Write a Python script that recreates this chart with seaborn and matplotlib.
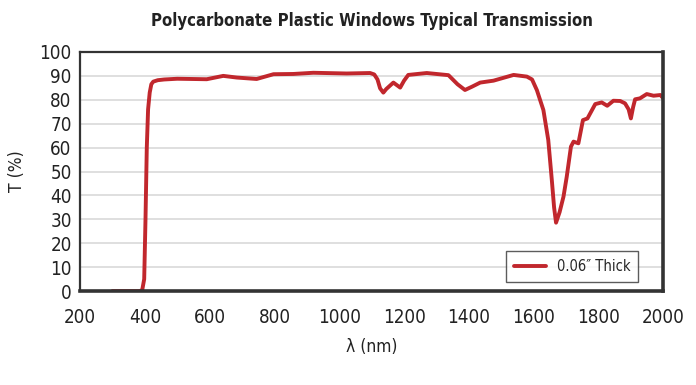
import matplotlib
matplotlib.use("Agg")
import matplotlib.pyplot as plt
import seaborn as sns
import pandas as pd

wavelength = [300, 385, 392, 398, 402, 406, 410, 415, 420, 426, 440, 460, 500, 591, 642, 684, 745, 797,
              858, 920, 1023, 1095, 1108, 1118, 1126, 1136, 1145, 1167, 1188, 1200, 1213, 1270, 1337,
              1365, 1388, 1410, 1435, 1476, 1538, 1579, 1595, 1610, 1630, 1645, 1656, 1663, 1669,
              1680, 1692, 1702, 1715, 1723, 1738, 1752, 1766, 1790, 1810, 1827, 1846, 1867, 1882,
              1893, 1900, 1907, 1913, 1928, 1949, 1970, 1991, 2000]
transmission = [0, 0, 0.5, 5, 30, 60, 76, 83, 86.5, 87.6, 88.2, 88.5, 88.8, 88.6, 90, 89.3, 88.7, 90.7,
                90.8, 91.3, 91.0, 91.2, 90.6, 88.5, 84.8, 83, 84.5, 87.2, 85.1, 88, 90.4, 91.2, 90.3,
                86.5, 84.1, 85.5, 87.2, 88, 90.4, 89.7, 88.5, 84, 75.7, 63.2, 46.4, 35, 28.6,
                33, 39.5, 47.8, 60.4, 62.5, 61.8, 71.5, 72.2, 78.2, 78.9, 77.5, 79.6, 79.5, 78.5,
                76, 72.2, 77, 80.2, 80.6, 82.4, 81.7, 82, 80.6]
series_label = "0.06\u2033 Thick"

df = pd.DataFrame({"wl": wavelength, "T": transmission, "s": series_label})

sns.set_style("white")
plt.rcParams["font.family"] = ["DejaVu Sans"]
plt.rcParams["font.stretch"] = "condensed"

fig = plt.figure(figsize=(6.96, 3.85), dpi=100)
ax = fig.add_axes([0.115, 0.244, 0.838, 0.621])
ax.yaxis.grid(True, color="#d9d9d9", lw=1.2)
ax.set_axisbelow(True)
sns.lineplot(data=df, x="wl", y="T", hue="s", palette=["#c1272d"], lw=2.8, ax=ax)
for ln in ax.lines:
    ln.set_solid_joinstyle("round")
    ln.set_solid_capstyle("round")
ax.set_xlim(200, 2000)
ax.set_ylim(0, 100)
ax.set_xticks(range(200, 2001, 200))
ax.set_yticks(range(0, 101, 10))
ax.tick_params(length=0, labelsize=13.5, colors="#222222")
ax.tick_params(axis="y", pad=6)
ax.tick_params(axis="x", pad=12)
for s in ["left", "top"]:
    ax.spines[s].set_linewidth(1.6)
    ax.spines[s].set_color("#333333")
for s in ["right", "bottom"]:
    ax.spines[s].set_linewidth(2.6)
    ax.spines[s].set_color("#333333")
ax.set_xlabel("\u03bb (nm)", fontsize=12.5, color="#222222", labelpad=8)
ax.set_ylabel("T (%)", fontsize=12.5, color="#222222", labelpad=10)
ax.set_title("Polycarbonate Plastic Windows Typical Transmission", fontsize=12,
             fontweight="bold", color="#222222", pad=19)
leg = ax.legend(loc="lower right", bbox_to_anchor=(0.957, 0.038), borderaxespad=0,
                frameon=True, fancybox=False, fontsize=10.5, handlelength=2.2,
                borderpad=0.55, handletextpad=0.7)
leg.get_frame().set_edgecolor("#333333")
leg.get_frame().set_linewidth(1.0)
fig.savefig("out.png", dpi=100)
